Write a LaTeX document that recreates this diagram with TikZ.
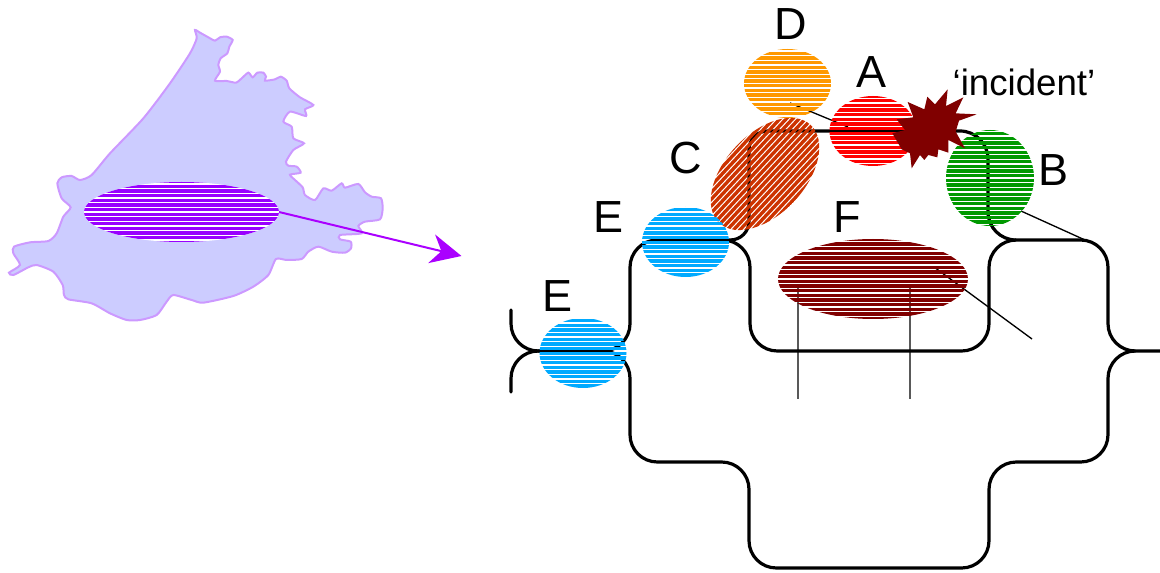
\documentclass[tikz,border=0pt]{standalone}
\usepackage{fontspec}
\setmainfont{Liberation Sans}
\usetikzlibrary{arrows.meta,shapes.geometric}
\definecolor{regionfill}{HTML}{CCCCFF}
\definecolor{regionline}{HTML}{CC99FF}
\definecolor{zonepurple}{HTML}{9900FF}
\definecolor{arrowpurple}{HTML}{AA00FF}
\definecolor{zoneorange}{HTML}{FF9900}
\definecolor{zonerust}{HTML}{CC3300}
\definecolor{zonegreen}{HTML}{009900}
\definecolor{zoneblue}{HTML}{00AAFF}
\definecolor{zonemaroon}{HTML}{800000}
\tikzset{
  every node/.append style={inner sep=0pt, outer sep=0pt},
  track/.style={line width=2.4pt, line cap=round, rounded corners=20.5pt},
  wire/.style={line width=1pt},
  letter/.style={font=\fontsize{33.75}{36}\selectfont},
  ovalsize/.style 2 args={minimum width=#1*0.75pt, minimum height=#2*0.75pt},
  hatched/.style 2 args={shape=ellipse, path picture={
    \begin{scope}[reset cm, shift={(path picture bounding box.center)}]
      \foreach \k in {-30,...,30}
        \fill[#1] (-150,{#2+\k*4.65+0.65}) rectangle (150,{#2+\k*4.65+4});
    \end{scope}}}
}

\begin{document}
\begin{tikzpicture}[x=0.75pt, y=-0.75pt]
    \useasboundingbox (0,0) rectangle (1160,573);

    % region on the left
    \begin{scope}[shift={(0,20)}, x=0.25pt, y=-0.25pt]
      \draw[fill=regionfill, draw=regionline, line width=1.5pt]
        plot[smooth cycle, tension=0.4] coordinates {
        (585,30) (600,38) (625,52) (645,62) (660,52) (680,50) (698,60) (688,80)
        (682,100) (662,115) (655,135) (660,155) (645,182) (680,183) (708,188)
        (725,175) (745,158) (758,172) (772,158) (790,158) (798,170) (795,182)
        (825,178) (842,170) (860,182) (868,205) (900,232) (940,255) (915,268)
        (918,288) (870,275) (850,305) (875,320) (880,355) (912,370) (880,390)
        (858,425) (865,437) (890,440) (902,458) (870,464) (885,480) (908,502)
        (915,525) (945,540) (970,505) (995,512) (1025,490) (1035,503) (1075,492)
        (1095,517) (1115,530) (1143,535) (1148,565) (1140,598) (1095,605)
        (1075,618) (1085,640) (1020,645) (1020,658) (1052,665) (1053,685)
        (1035,698) (995,695) (955,680) (925,695) (905,717) (860,720) (828,717)
        (805,765) (760,800) (700,828) (610,848) (575,840) (520,825) (500,845)
        (470,885) (420,900) (380,900) (330,880) (275,850) (205,838) (192,825)
        (188,795) (160,755) (110,735) (85,742) (40,765) (27,758) (60,735)
        (40,700) (42,680) (90,667) (145,663) (170,640) (190,590) (212,562)
        (185,535) (172,490) (185,472) (215,468) (240,480) (275,465) (330,400)
        (430,295) (510,190) (570,100) (590,55)};
    \end{scope}
    \node[hatched={zonepurple}{0}, ovalsize={195}{60}, fill=white] (zone) at (181.5,212) {};
    \coordinate (zonetip) at (461.5,256);
    \draw[arrowpurple, line width=1.5pt, -{Stealth[length=23pt, width=22pt, inset=7.5pt]}]
      (zone.east) -- (zonetip);

    % free ends
    \coordinate (forkleft) at (540,351);
    \coordinate (forkup) at (511,310);
    \coordinate (forkdown) at (511,392);
    \coordinate (exit) at (1160,351);
    \coordinate (exitjoin) at (1135,351);
    \coordinate (splitjoin) at (603,351);
    \coordinate (branchleft) at (729,240);
    \coordinate (branchright) at (1015,240);
    \coordinate (stemd) at (790,103);
    \coordinate (stema) at (848,127);
    \coordinate (stemb) at (1021,211);
    \coordinate (stemtrack) at (1085,240);
    \coordinate (stemf1) at (798,285);
    \coordinate (stemf1end) at (798,399);
    \coordinate (stemf2) at (910,285);
    \coordinate (stemf2end) at (910,399);
    \coordinate (stemf3) at (934,267);
    \coordinate (stemf3end) at (1032,339);

    % tracks lie under the stripes
    \draw[track] (forkup) -- (511,351) -- (forkleft);
    \draw[track] (forkdown) -- (511,351) -- (forkleft);
    \draw[track] (forkleft) -- (630,351) -- (630,240) -- (750,240) -- (750,351)
      -- (989,351) -- (989,240) -- (1108,240) -- (1108,351) -- (exit);
    \draw[track] (splitjoin) -- (630,351) -- (630,462) -- (749,462) -- (749,568)
      -- (989,568) -- (989,462) -- (1108,462) -- (1108,351) -- (exitjoin);
    \draw[track, rounded corners=14pt] (branchleft) -- (749,240) -- (749,131)
      [rounded corners=21pt] -- (988,131) -- (988,240) -- (branchright);

    \draw[wire]
      (stemd) -- (stema)
      (stemb) -- (stemtrack)
      (stemf1) -- (stemf1end)
      (stemf2) -- (stemf2end)
      (stemf3) -- (stemf3end);

    % zones along the line
    \node[hatched={zoneorange}{0}, ovalsize={87}{69}] (zoned) at (787.5,83.5) {};
    \node[hatched={red}{0}, ovalsize={87}{70}] (zonea) at (873,131) {};
    \node[hatched={zonerust}{-43}, ovalsize={134}{80}, rotate=47] (zonec) at (765,174) {};
    \node[hatched={zonegreen}{0}, ovalsize={88}{96}] (zoneb) at (990,178) {};
    \node[hatched={zonemaroon}{0}, ovalsize={190}{80}] (zonef) at (873,279) {};
    \node[hatched={zoneblue}{-2}, ovalsize={87}{70}] (zonee1) at (685.5,242) {};
    \node[hatched={zoneblue}{-2}, ovalsize={87}{70}] (zonee2) at (583,353) {};

    % incident mark
    \begin{scope}[shift={(885,80)}, x=0.25pt, y=-0.25pt]
      \fill[zonemaroon] (188,28) -- (183,78) -- (235,52) -- (212,100) -- (275,103)
        -- (222,122) -- (212,155) -- (240,205) -- (190,180) -- (190,218) -- (160,208)
        -- (157,232) -- (130,225) -- (118,240) -- (105,225) -- (80,265) -- (75,220)
        -- (50,208) -- (22,160) -- (60,150) -- (35,118) -- (85,112) -- (68,66)
        -- (118,88) -- (127,50) -- (150,73) -- cycle;
    \end{scope}

    \node[letter] (labeld) at (791,24) {D};
    \node[letter] (labela) at (871,72) {A};
    \node[letter] (labelc) at (686,158) {C};
    \node[letter] (labelb) at (1053,170) {B};
    \node[letter] (labele1) at (608,217) {E};
    \node[letter] (labele2) at (558,296) {E};
    \node[letter] (labelf) at (847,217) {F};
    \node[font=\fontsize{27.5}{30}\selectfont] (labelincident) at (1024,82) {‘incident’};
\end{tikzpicture}
\end{document}
